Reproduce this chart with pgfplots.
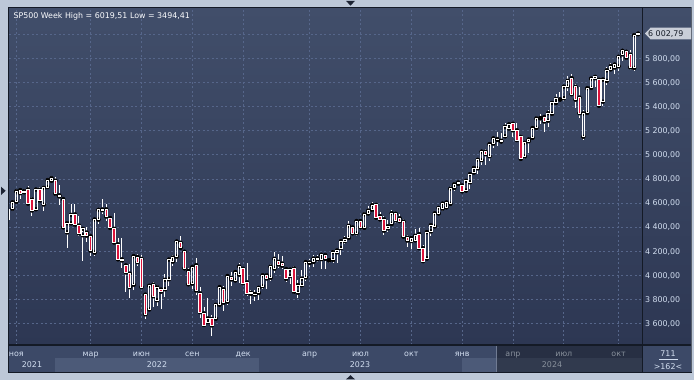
\documentclass[border=0pt]{standalone}
\usepackage{fontspec}
\setmainfont{DejaVu Sans}
\usepackage{pgfplots}
\usepackage{pgfplotstable}
\pgfplotsset{compat=1.18}
\definecolor{frame}{HTML}{BDC8D8}
\definecolor{bgtop}{HTML}{414E6A}
\definecolor{bgbot}{HTML}{2D3753}
\definecolor{gridc}{HTML}{56668A}
\definecolor{lbl}{HTML}{D2DEF0}
\definecolor{downc}{HTML}{DC143C}
\definecolor{rowa}{HTML}{3C4967}
\definecolor{rowb}{HTML}{4C5A78}
\definecolor{tagc}{HTML}{C9CED8}
\definecolor{border}{HTML}{141A26}

\pgfplotstableread{
i o h l c
0 4463 4559 4447 4545
1 4553 4608 4537 4605
2 4610 4718 4595 4697
3 4707 4714 4630 4682
4 4689 4718 4672 4698
5 4712 4744 4585 4595
6 4629 4652 4495 4538
7 4548 4713 4532 4712
8 4710 4731 4600 4620
9 4588 4740 4531 4725
10 4733 4808 4733 4790
11 4785 4822 4778 4806
12 4785 4819 4662 4677
13 4655 4749 4582 4663
14 4632 4632 4395 4398
15 4356 4453 4222 4432
16 4431 4595 4415 4501
17 4505 4590 4401 4419
18 4412 4490 4327 4349
19 4332 4362 4114 4385
20 4354 4402 4279 4329
21 4323 4327 4157 4204
22 4188 4465 4162 4463
23 4462 4546 4424 4543
24 4541 4637 4507 4546
25 4547 4594 4450 4488
26 4474 4474 4381 4393
27 4385 4513 4262 4272
28 4256 4308 4124 4132
29 4131 4308 4062 4123
30 4081 4082 3859 4024
31 4013 4090 3811 3901
32 3920 4158 3876 4158
33 4151 4177 4074 4109
34 4135 4168 3900 3901
35 3838 3838 3637 3675
36 3715 3913 3705 3912
37 3920 3946 3738 3825
38 3792 3918 3743 3899
39 3880 3880 3721 3863
40 3883 4013 3819 3962
41 3966 4140 3911 4130
42 4113 4167 4079 4145
43 4155 4280 4112 4280
44 4269 4325 4218 4228
45 4195 4204 4055 4057
46 4034 4062 3907 3924
47 3930 4076 3886 4067
48 4083 4140 3837 3873
49 3849 3899 3647 3693
50 3682 3736 3584 3586
51 3610 3807 3604 3640
52 3636 3669 3494.41 3583
53 3638 3762 3632 3753
54 3755 3905 3740 3901
55 3882 3912 3699 3771
56 3780 4001 3751 3993
57 3977 4028 3906 3965
58 3956 4034 3940 4026
59 4005 4101 3938 4072
60 4053 4057 3918 3934
61 3940 4101 3827 3852
62 3853 3877 3764 3845
63 3843 3879 3784 3840
64 3853 3906 3795 3895
65 3910 4003 3888 3999
66 3999 4015 3885 3973
67 3979 4095 3949 4071
68 4055 4195 4016 4136
69 4111 4176 4060 4090
70 4096 4160 4048 4079
71 4051 4052 3943 3970
72 3993 4049 3928 4046
73 4055 4078 3847 3862
74 3855 3962 3809 3917
75 3917 4039 3902 3971
76 3982 4110 3951 4109
77 4102 4133 4069 4105
78 4110 4164 4072 4138
79 4140 4169 4113 4133
80 4134 4170 4049 4169
81 4167 4187 4048 4136
82 4124 4143 4099 4124
83 4127 4212 4099 4191
84 4190 4213 4104 4205
85 4226 4290 4167 4282
86 4283 4322 4261 4299
87 4310 4448 4297 4410
88 4396 4400 4341 4348
89 4349 4458 4328 4450
90 4450 4456 4385 4399
91 4394 4527 4386 4505
92 4513 4578 4503 4536
93 4543 4607 4528 4582
94 4584 4594 4474 4478
95 4491 4528 4450 4464
96 4465 4491 4335 4370
97 4389 4458 4356 4406
98 4426 4541 4425 4515
99 4510 4514 4430 4457
100 4473 4511 4448 4450
101 4445 4466 4316 4320
102 4310 4338 4238 4288
103 4284 4319 4216 4309
104 4289 4385 4284 4327
105 4342 4394 4222 4224
106 4225 4255 4104 4117
107 4139 4366 4128 4358
108 4364 4415 4329 4415
109 4406 4521 4394 4514
110 4513 4568 4507 4559
111 4554 4597 4537 4595
112 4564 4610 4546 4604
113 4593 4739 4593 4719
114 4726 4778 4699 4755
115 4759 4785 4752 4770
116 4745 4755 4682 4697
117 4703 4802 4700 4784
118 4772 4842 4714 4840
119 4853 4907 4842 4891
120 4888 4975 4845 4959
121 4957 5030 4919 5027
122 5026 5048 4920 5006
123 4989 5097 4946 5089
124 5094 5140 5057 5137
125 5131 5189 5077 5124
126 5111 5180 5104 5117
127 5154 5261 5146 5234
128 5219 5265 5203 5254
129 5258 5264 5146 5204
130 5204 5263 5107 5123
131 5149 5168 4954 4967
132 4987 5113 4963 5100
133 5114 5128 5012 5128
134 5142 5240 5138 5223
135 5225 5325 5215 5303
136 5305 5342 5257 5305
137 5315 5315 5191 5278
138 5284 5375 5234 5347
139 5341 5447 5324 5432
140 5432 5506 5420 5465
141 5460 5524 5447 5460
142 5471 5570 5445 5567
143 5572 5656 5528 5615
144 5638 5670 5497 5505
145 5565 5586 5390 5459
146 5476 5566 5306 5347
147 5151 5371 5120 5344
148 5350 5564 5335 5554
149 5557 5643 5552 5634
150 5637 5651 5561 5648
151 5624 5626 5402 5408
152 5442 5636 5406 5626
153 5615 5733 5583 5703
154 5711 5767 5698 5738
155 5726 5757 5675 5751
156 5737 5822 5695 5815
157 5836 5878 5784 5865
158 5857 5866 5786 5808
159 5833 5870 5703 5728
160 5723 6012 5696 5995
161 6008 6019.51 5998 6002.79
}\sp

\begin{document}
\begin{tikzpicture}[x=1bp,y=1bp,every node/.style={font=\fontsize{7.9bp}{9.5bp}\selectfont}]
% outer frame
\fill[frame] (0,0) rectangle (694,380);
% right price panel
\shade[top color=bgtop, bottom color=bgbot] (642,35) rectangle (691.5,372);
% date area
\fill[rowa] (8,8) rectangle (642,35);
\fill[rowb] (55,8) rectangle (258.5,22);
\fill[rowb] (462,8) rectangle (642,22);
\fill[rowa] (642,8) rectangle (691.5,35);

\begin{axis}[
  at={(9bp,35bp)}, anchor=south west,
  width=633bp, height=336.5bp, scale only axis,
  xmin=0.13, xmax=162, ymin=3419.6, ymax=6216.8,
  axis line style={draw=none},
  axis background/.style={shade, top color=bgtop, bottom color=bgbot},
  xtick={2,21,34,47,60,77,90,103,116,129,142,156},
  xticklabels={ноя,мар,июн,сен,дек,апр,июл,окт,янв,апр,июл,окт},
  ytick={3600,3800,4000,4200,4400,4600,4800,5000,5200,5400,5600,5800,6000},
  yticklabels={{3 600,00},{3 800,00},{4 000,00},{4 200,00},{4 400,00},{4 600,00},{4 800,00},{5 000,00},{5 200,00},{5 400,00},{5 600,00},{5 800,00},{}},
  major tick length=0pt,
  xmajorgrids, ymajorgrids,
  grid style={gridc, line width=0.8bp, dash pattern=on 2bp off 2.5bp},
  yticklabel pos=right,
  tick label style={font=\fontsize{7.9bp}{9.5bp}\selectfont, text=lbl, inner sep=0pt},
  xticklabel style={anchor=base, yshift=-11.5bp},
  yticklabel style={anchor=base west, xshift=2.8bp, yshift=-2.9bp},
  clip=true,
]
\addplot[only marks, mark=none, error bars/.cd, y dir=plus, y explicit, error mark=none,
  error bar style={draw=white, line width=0.95bp, solid}]
  table[x=i, y expr={max(\thisrow{o},\thisrow{c})}, y error plus expr={\thisrow{h}-max(\thisrow{o},\thisrow{c})}] {\sp};
\addplot[only marks, mark=none, error bars/.cd, y dir=minus, y explicit, error mark=none,
  error bar style={draw=white, line width=0.95bp, solid}]
  table[x=i, y expr={min(\thisrow{o},\thisrow{c})}, y error minus expr={min(\thisrow{o},\thisrow{c})-\thisrow{l}}] {\sp};
\end{axis}

\begin{axis}[
  at={(9bp,35bp)}, anchor=south west,
  width=633bp, height=336.5bp, scale only axis,
  xmin=0.13, xmax=162, ymin=3419.6, ymax=6216.8,
  hide axis, ybar stacked, bar width=2.4bp, clip=true,
]
\addplot[draw=none, fill=none] table[x=i, y expr={min(\thisrow{o},\thisrow{c})}] {\sp};
\addplot[draw=white, fill=none, line width=0.95bp] table[x=i, y expr={\thisrow{c}>=\thisrow{o} ? \thisrow{c}-\thisrow{o} : 0}] {\sp};
\addplot[draw=white, fill=downc, line width=0.95bp] table[x=i, y expr={\thisrow{c}<\thisrow{o} ? \thisrow{o}-\thisrow{c} : 0}] {\sp};
\end{axis}

% borders
\fill[border] (7.5,8) rectangle (8.5,372.5);
\fill[border] (7.5,371.5) rectangle (691.5,372.5);
\fill[border] (8,34) rectangle (691.5,35.6);
\fill[border] (641.5,8) rectangle (643,372);
\fill[border] (7.5,7.5) rectangle (691.5,8.5);
\fill[border!60!frame] (691,8) rectangle (691.8,372.5);

% year labels
\node[anchor=base, text=lbl] at (32,12.3) {2021};
\node[anchor=base, text=lbl] at (157,12.3) {2022};
\node[anchor=base, text=lbl] at (360,12.3) {2023};
\node[anchor=base, text=lbl] at (552,12.3) {2024};
% dim overlay on the date bar
\fill[black, opacity=0.35] (497,8.5) rectangle (641.5,34);
\draw[color=rowb!80!white, line width=0.8bp] (496.6,8.5) -- (496.6,34);

% corner box
\node[anchor=base, text=lbl] at (668,24) {711};
\draw[lbl, line width=0.6bp] (659,21) -- (678,21);
\node[anchor=base, text=lbl] at (668,11) {>162<};

% title
\node[anchor=base west, text=white!92!lbl] at (10,361.7) {SP500 Week High = 6019,51 Low = 3494,41};

% price tag
\fill[tagc] (645,346.5) -- (650.5,352.3) -- (691,352.3) -- (691,340.7) -- (650.5,340.7) -- cycle;
\node[anchor=base west, text=border, inner sep=0pt] at (648,343.4) {6 002,79};

% small scroll triangles
\fill[border!80!bgtop] (346,379.2) -- (355,379.2) -- (350.5,374.3) -- cycle;
\fill[border!80!bgtop] (346,0.6) -- (355,0.6) -- (350.5,4.8) -- cycle;
\fill[border!80!bgtop] (1,193.3) -- (1,185) -- (5.7,189.2) -- cycle;

\pgfresetboundingbox
\useasboundingbox (0,0) rectangle (694,380);
\end{tikzpicture}
\end{document}
